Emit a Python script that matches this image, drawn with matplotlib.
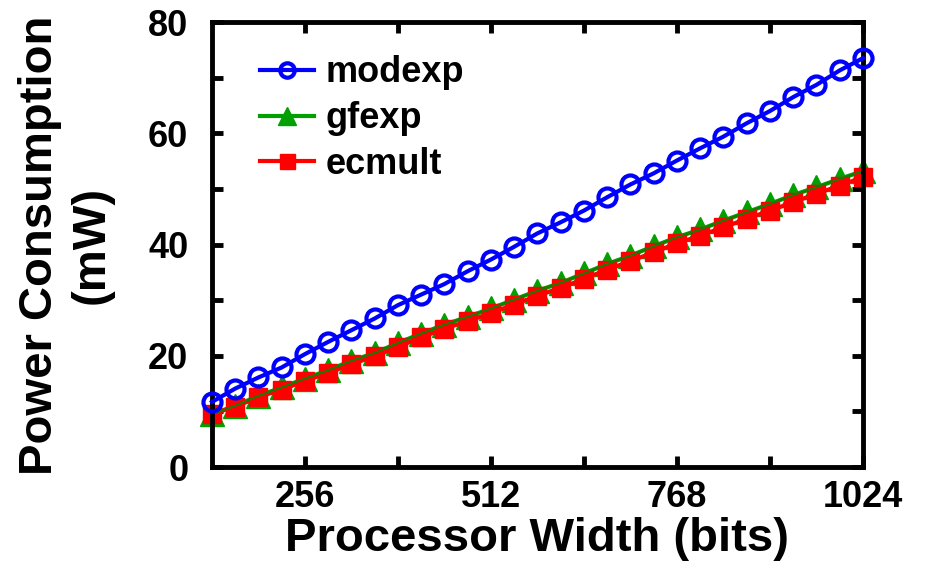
import matplotlib.pyplot as plt

# Ancho del procesador (bits)
widths = [128, 160, 192, 224, 256, 288, 320, 352, 384, 416, 448, 480, 512, 544, 576,
          608, 640, 672, 704, 736, 768, 800, 832, 864, 896, 928, 960, 992, 1024]

# Consumo de potencia (mW)
modexp = [11.7, 14.1, 16.1, 17.9, 20.3, 22.5, 24.6, 26.7, 29.1, 31.0, 32.9, 35.2, 37.3, 39.6, 42.0,
          44.0, 46.1, 48.5, 50.8, 52.8, 55.1, 57.3, 59.4, 61.8, 64.0, 66.5, 68.7, 71.3, 73.5]
gfexp = [9.5, 11.0, 12.8, 14.3, 15.9, 17.4, 19.1, 20.5, 22.3, 24.0, 25.6, 27.0, 28.5, 30.1, 31.7,
         33.1, 34.8, 36.5, 38.0, 39.7, 41.3, 42.7, 44.3, 45.8, 47.3, 48.9, 50.3, 51.8, 53.2]
ecmult = [9.6, 10.8, 12.6, 13.9, 15.5, 16.9, 18.5, 19.9, 21.6, 23.3, 24.9, 26.2, 27.7, 29.2, 30.8,
          32.2, 33.8, 35.5, 37.0, 38.6, 40.2, 41.6, 43.1, 44.6, 46.1, 47.6, 49.1, 50.6, 52.1]

x_major = [256, 512, 768, 1024]
x_minor = [384, 640, 896]
y_major = [0, 20, 40, 60, 80]
y_minor = [10, 30, 50, 70]

plt.rcParams['font.family'] = ['Liberation Sans', 'DejaVu Sans']
plt.rcParams['font.weight'] = 'bold'

fig = plt.figure(figsize=(9.28, 5.63), dpi=100)
ax = fig.add_axes([0.2284, 0.1705, 0.7015, 0.7904])

ax.plot(widths, modexp, color='#0000ff', lw=3, marker='o', ms=13, mew=3,
        mfc='none', label='modexp', clip_on=False, zorder=3)
ax.plot(widths, gfexp, color='#00a000', lw=3, marker='^', ms=17,
        label='gfexp', clip_on=False, zorder=2)
ax.plot(widths, ecmult, color='#ff0000', lw=3, marker='s', ms=13.5,
        label='ecmult', clip_on=False, zorder=2.2)
# linea fina de gfexp que se ve sobre los cuadrados
ax.plot(widths, gfexp, color='#1a7a00', lw=1.5, zorder=2.3, clip_on=False)

ax.set_xlim(128, 1024)
ax.set_ylim(0, 80)
ax.set_xticks(x_major)
ax.set_xticks(x_minor, minor=True)
ax.set_yticks(y_major)
ax.set_yticks(y_minor, minor=True)

for s in ax.spines.values():
    s.set_linewidth(3.5)
ax.tick_params(which='both', direction='in', length=8, width=3.5,
               top=True, right=True)
ax.tick_params(axis='x', which='major', labelsize=26, pad=9)
ax.tick_params(axis='y', which='major', labelsize=26, pad=17)

ax.set_xlabel('Processor Width (bits)', fontsize=34, fontweight='bold', labelpad=2)
fig.text(0.071, 0.565, 'Power Consumption\n(mW)', fontsize=34, fontweight='bold',
         rotation=90, ha='center', va='center', multialignment='center')

ax.legend(loc='upper left', bbox_to_anchor=(0.074, 0.925), frameon=False,
          fontsize=26, handlelength=1.5, handletextpad=0.3, labelspacing=0.3,
          borderpad=0, borderaxespad=0, markerscale=0.8)

plt.savefig('out.png', dpi=100)
